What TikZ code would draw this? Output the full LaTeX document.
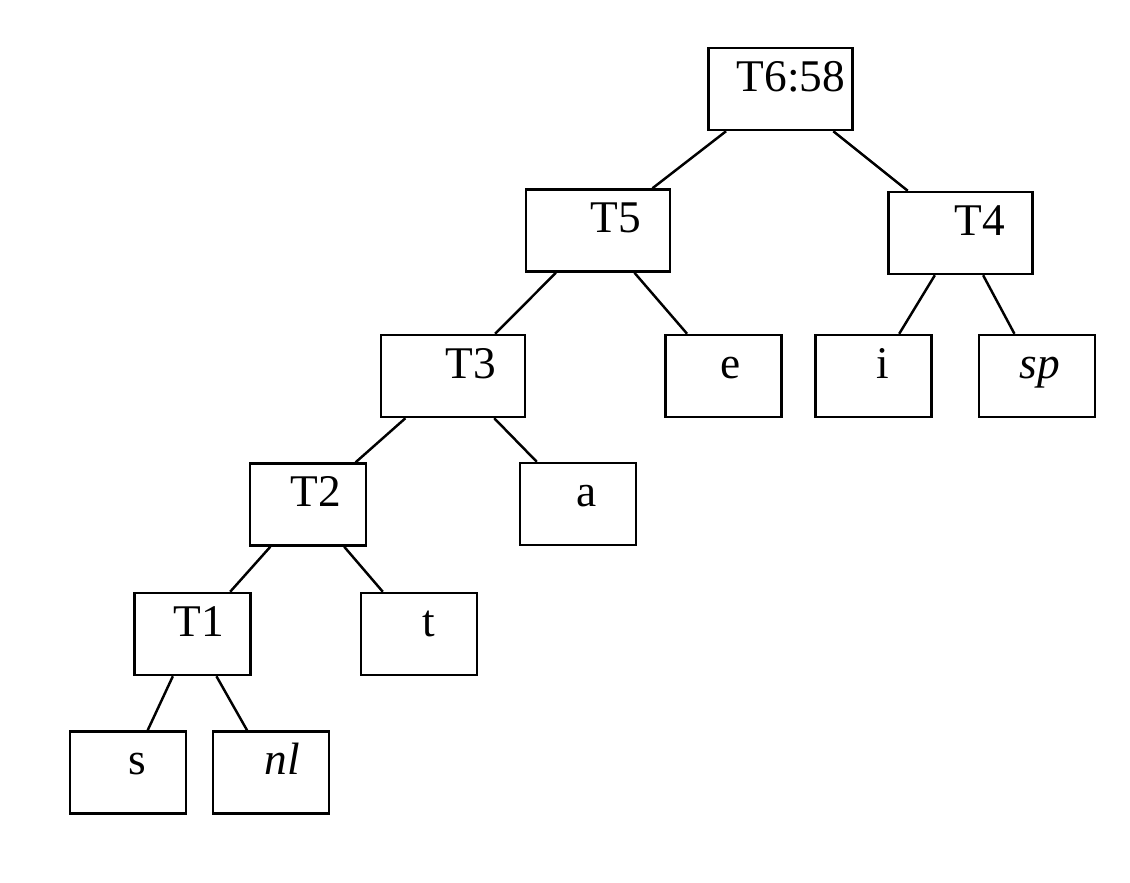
\documentclass[tikz,border=0pt]{standalone}
\usepackage{fontspec}
\setmainfont{Liberation Serif}
\begin{document}
\begin{tikzpicture}[line width=0.7pt,
  leaf/.style={draw,inner sep=0pt,minimum width=1.16cm,minimum height=0.82cm,
    text height=0.32cm,text depth=0.28cm,font=\fontsize{12.9}{15}\selectfont},
  inner/.style={leaf,minimum width=1.44cm}]
\useasboundingbox(0,0)rectangle(11.30,8.82);
\node[inner](t6)at(7.805,7.93){\hspace{0.21cm}T6:58};
\node[inner](t5)at(5.98,6.515){\hspace{0.35cm}T5};
\node[inner](t4)at(9.605,6.49){\hspace{0.38cm}T4};
\node[inner](t3)at(4.53,5.06){\hspace{0.36cm}T3};
\node[leaf](e)at(7.235,5.06){\hspace{0.15cm}e};
\node[leaf](i)at(8.735,5.06){\hspace{0.19cm}i};
\node[leaf](sp)at(10.37,5.06){\hspace{0.05cm}\itshape sp};
\node[leaf](t2)at(3.08,3.775){\hspace{0.15cm}T2};
\node[leaf](a)at(5.78,3.78){\hspace{0.18cm}a};
\node[leaf](t1)at(1.925,2.48){\hspace{0.12cm}T1};
\node[leaf](t)at(4.19,2.48){\hspace{0.2cm}t};
\node[leaf](s)at(1.28,1.095){\hspace{0.19cm}s};
\node[leaf](nl)at(2.71,1.095){\hspace{0.22cm}\itshape nl};
\draw(t6)--(t5);
\draw(t6)--(t4);
\draw(t5)--(t3);
\draw(t5)--(e);
\draw(t4)--(i);
\draw(t4)--(sp);
\draw(t3)--(t2);
\draw(t3)--(a);
\draw(t2)--(t1);
\draw(t2)--(t);
\draw(t1)--(s);
\draw(t1)--(nl);
\end{tikzpicture}
\end{document}
